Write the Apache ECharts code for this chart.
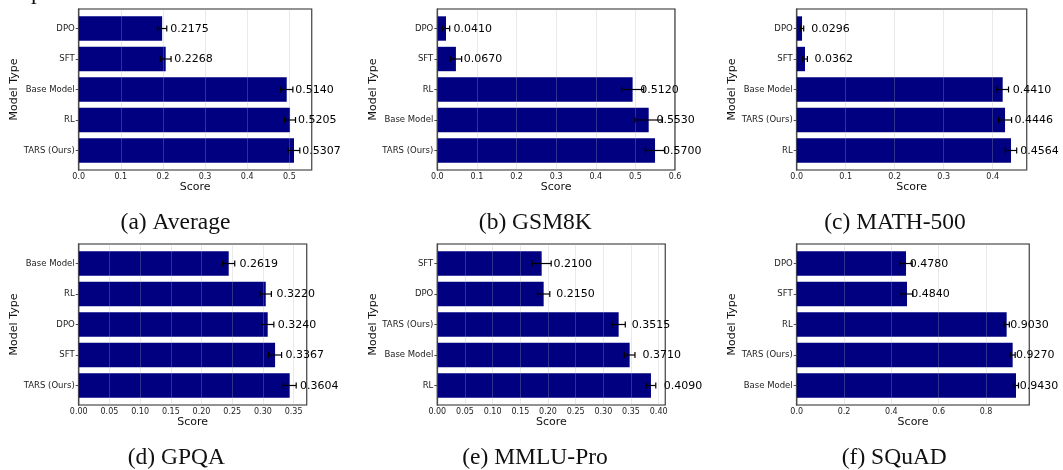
<!DOCTYPE html>
<html><head><meta charset="utf-8">
<script src="https://cdn.jsdelivr.net/npm/echarts@6/dist/echarts.min.js"></script>
<style>html,body{margin:0;padding:0;background:#fff}#c{width:1063px;height:470px}</style>
</head><body><div id="c"></div>
<script>
// ---------- data ----------
const catsA = ['DPO', 'SFT', 'Base Model', 'RL', 'TARS (Ours)'];
const barsA = [0.198, 0.2065, 0.4937, 0.5016, 0.511];
const errA = [0.011, 0.0127, 0.0146, 0.013, 0.0138];
const labelsA = [0.2175, 0.2268, 0.5140, 0.5205, 0.5307];
const ticksA = [0, 0.1, 0.2, 0.3, 0.4, 0.5];

const catsB = ['DPO', 'SFT', 'RL', 'Base Model', 'TARS (Ours)'];
const barsB = [0.022, 0.047, 0.493, 0.5336, 0.5496];
const errB = [0.0093, 0.0144, 0.028, 0.0347, 0.0246];
const labelsB = [0.0410, 0.0670, 0.5120, 0.5530, 0.5700];
const ticksB = [0, 0.1, 0.2, 0.3, 0.4, 0.5, 0.6];

const catsC = ['DPO', 'SFT', 'Base Model', 'TARS (Ours)', 'RL'];
const barsC = [0.0109, 0.017, 0.4204, 0.4252, 0.4374];
const errC = [0.0034, 0.0048, 0.0119, 0.0133, 0.0116];
const labelsC = [0.0296, 0.0362, 0.4410, 0.4446, 0.4564];
const ticksC = [0, 0.1, 0.2, 0.3, 0.4];

const catsD = ['Base Model', 'RL', 'DPO', 'SFT', 'TARS (Ours)'];
const barsD = [0.2443, 0.3046, 0.3078, 0.3198, 0.3436];
const errD = [0.0098, 0.0092, 0.010, 0.0106, 0.0106];
const labelsD = [0.2619, 0.3220, 0.3240, 0.3367, 0.3604];
const ticksD = [0, 0.05, 0.10, 0.15, 0.20, 0.25, 0.30, 0.35];

const catsE = ['SFT', 'DPO', 'TARS (Ours)', 'Base Model', 'RL'];
const barsE = [0.1886, 0.1922, 0.3277, 0.3476, 0.3861];
const errE = [0.0172, 0.0111, 0.012, 0.0096, 0.0087];
const labelsE = [0.2100, 0.2150, 0.3515, 0.3710, 0.4090];
const ticksE = [0, 0.05, 0.10, 0.15, 0.20, 0.25, 0.30, 0.35, 0.40];

const catsF = ['DPO', 'SFT', 'RL', 'TARS (Ours)', 'Base Model'];
const barsF = [0.462, 0.4662, 0.8873, 0.9127, 0.9268];
const errF = [0.026, 0.0246, 0.0113, 0.0106, 0.0106];
const labelsF = [0.4780, 0.4840, 0.9030, 0.9270, 0.9430];
const ticksF = [0, 0.2, 0.4, 0.6, 0.8];

const captions = ['(a) Average', '(b) GSM8K', '(c) MATH-500', '(d) GPQA', '(e) MMLU-Pro', '(f) SQuAD'];

// ---------- layout / style ----------
const panels = [
  {cats: catsA, bars: barsA, err: errA, labels: labelsA, ticks: ticksA, max: 0.553, interval: 0.1, dec: 1,
   left: 78.7, top: 9, width: 233, capX: 175.5, capY: 223},
  {cats: catsB, bars: barsB, err: errB, labels: labelsB, ticks: ticksB, max: 0.6, interval: 0.1, dec: 1,
   left: 437.3, top: 9, width: 237.7, capX: 535.3, capY: 223},
  {cats: catsC, bars: barsC, err: errC, labels: labelsC, ticks: ticksC, max: 0.4694, interval: 0.1, dec: 1,
   left: 796.7, top: 9, width: 230, capX: 895, capY: 223},
  {cats: catsD, bars: barsD, err: errD, labels: labelsD, ticks: ticksD, max: 0.3713, interval: 0.05, dec: 2,
   left: 78.7, top: 244, width: 228, capX: 176.3, capY: 458},
  {cats: catsE, bars: barsE, err: errE, labels: labelsE, ticks: ticksE, max: 0.412, interval: 0.05, dec: 2,
   left: 437.3, top: 244, width: 228, capX: 535, capY: 458},
  {cats: catsF, bars: barsF, err: errF, labels: labelsF, ticks: ticksF, max: 0.983, interval: 0.2, dec: 1,
   left: 796.7, top: 244, width: 232.6, capX: 894.3, capY: 458}
];
const PLOT_H = 161;
const NAVY = '#000080';
const FONT = 'DejaVu Sans';

const grid = [], xAxis = [], yAxis = [], series = [], graphic = [];
panels.forEach((p, k) => {
  grid.push({left: p.left, top: p.top, width: p.width, height: PLOT_H,
    show: true, borderColor: '#262626', borderWidth: 1.2, backgroundColor: 'transparent'});
  xAxis.push({
    type: 'value', gridIndex: k, min: 0, max: p.max, interval: p.interval, z: 3,
    axisLine: {show: false}, axisTick: {show: false},
    axisLabel: {customValues: p.ticks, formatter: v => v.toFixed(p.dec), fontFamily: FONT,
      fontSize: 8, color: '#222', margin: 3},
    splitLine: {show: true, lineStyle: {color: '#b0b0b0', opacity: 0.35, width: 0.8}},
    name: 'Score', nameLocation: 'middle', nameGap: 9.5,
    nameTextStyle: {fontFamily: FONT, fontSize: 11, color: '#111'}
  });
  yAxis.push({
    type: 'value', gridIndex: k, inverse: true, min: -0.64, max: 4.64,
    axisLine: {show: true, lineStyle: {color: '#262626', width: 1.2}},
    axisTick: {show: true, customValues: [0, 1, 2, 3, 4], length: 3, lineStyle: {color: '#222', width: 0.8}},
    axisLabel: {customValues: [0, 1, 2, 3, 4], formatter: v => p.cats[Math.round(v)] || '',
      fontFamily: FONT, fontSize: 8.5, color: '#222', margin: 4},
    splitLine: {show: false},
    name: 'Model Type', nameLocation: 'middle', nameGap: 55,
    nameTextStyle: {fontFamily: FONT, fontSize: 11, color: '#111'}
  });
  series.push({
    type: 'custom', xAxisIndex: k, yAxisIndex: k, z: 2, clip: false,
    data: p.bars.map((v, i) => [i, v]),
    renderItem: (params, api) => {
      const i = api.value(0), v = api.value(1);
      const a = api.coord([0, i]), b = api.coord([v, i]);
      const h = api.size([0, 0.8])[1];
      return {type: 'rect', shape: {x: a[0], y: a[1] - h / 2, width: b[0] - a[0], height: h},
        style: {fill: NAVY}};
    }
  });
  series.push({
    type: 'custom', xAxisIndex: k, yAxisIndex: k, z: 5, clip: false,
    data: p.bars.map((v, i) => [i, v, p.err[i], p.labels[i]]),
    renderItem: (params, api) => {
      const i = api.value(0), v = api.value(1), e = api.value(2), lab = api.value(3);
      const l = api.coord([v - e, i]), r = api.coord([v + e, i]), t = api.coord([lab, i]);
      const st = {stroke: '#000', lineWidth: 1.2};
      return {type: 'group', children: [
        {type: 'line', shape: {x1: l[0], y1: l[1], x2: r[0], y2: r[1]}, style: st},
        {type: 'line', shape: {x1: l[0], y1: l[1] - 3, x2: l[0], y2: l[1] + 3}, style: st},
        {type: 'line', shape: {x1: r[0], y1: r[1] - 3, x2: r[0], y2: r[1] + 3}, style: st},
        {type: 'text', x: t[0], y: t[1] + 0.5, style: {text: lab.toFixed(4), fill: '#000',
          font: '11px "DejaVu Sans"', textAlign: 'left', textVerticalAlign: 'middle'}}
      ]};
    }
  });
  graphic.push({type: 'text', x: p.capX, y: p.capY,
    style: {text: captions[k], fill: '#111', font: '23.5px "Liberation Serif"',
      textAlign: 'center', textVerticalAlign: 'middle'}});
});
graphic.push({type: 'text', x: 31, y: -7,
  style: {text: 'p', fill: '#111', font: '23.5px "Liberation Serif"', textAlign: 'left', textVerticalAlign: 'middle'}});

const chart = echarts.init(document.getElementById('c'), null, {renderer: 'canvas'});
chart.setOption({animation: false, backgroundColor: '#fff', grid, xAxis, yAxis, series, graphic});
</script>
</body></html>
